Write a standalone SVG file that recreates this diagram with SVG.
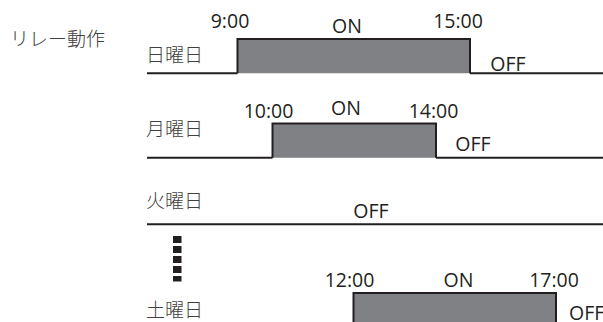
<svg xmlns="http://www.w3.org/2000/svg" width="603" height="322" viewBox="0 0 603 322">
<style>
.jp{font-family:"Noto Sans CJK JP","Noto Sans",sans-serif;font-size:19px;font-weight:300;fill:#404040}
.t{font-family:"Open Sans","Liberation Sans",sans-serif;font-size:19.5px;fill:#231f20;text-anchor:middle}
.ln{stroke:#231f20;stroke-width:2;fill:none}
.on{fill:#808184;stroke:#231f20;stroke-width:2}
.dot{fill:#231f20}
</style>
<rect width="603" height="322" fill="#ffffff"/>
<g id="title"><text class="jp" x="10" y="46">リレー動作</text></g>
<g id="connectors">
<path class="ln" d="M147 73.3H237.5M470 73.3H603"/>
<path class="ln" d="M147 157.7H272.5M436 157.7H603"/>
<path class="ln" d="M147 224.3H603"/>
</g>
<g id="sunday">
<text class="jp" x="146" y="62">日曜日</text>
<path class="on" d="M237.5 73.3V39H470V73.3"/>
<text class="t" x="230" y="28">9:00</text>
<text class="t" x="347" y="33">ON</text>
<text class="t" x="458" y="28">15:00</text>
<text class="t" x="508" y="71">OFF</text>
</g>
<g id="monday">
<text class="jp" x="146" y="136">月曜日</text>
<path class="on" d="M272.5 157.7V123.5H436V157.7"/>
<text class="t" x="268.5" y="118">10:00</text>
<text class="t" x="346" y="115">ON</text>
<text class="t" x="433.5" y="118">14:00</text>
<text class="t" x="473" y="151">OFF</text>
</g>
<g id="tuesday">
<text class="jp" x="146" y="208">火曜日</text>
<text class="t" x="371" y="218">OFF</text>
</g>
<g id="ellipsis">
<rect class="dot" x="173" y="236" width="8.5" height="7"/>
<rect class="dot" x="173" y="246" width="8.5" height="7"/>
<rect class="dot" x="173" y="256" width="8.5" height="7"/>
<rect class="dot" x="173" y="266" width="8.5" height="7"/>
<rect class="dot" x="173" y="276" width="8.5" height="5.5"/>
</g>
<g id="saturday">
<text class="jp" x="146" y="317">土曜日</text>
<path class="on" d="M353.5 330V293H556V330"/>
<text class="t" x="349.5" y="287">12:00</text>
<text class="t" x="458.5" y="287">ON</text>
<text class="t" x="554" y="287">17:00</text>
<text class="t" x="569" y="320" style="text-anchor:start">OFF</text>
</g>
</svg>
